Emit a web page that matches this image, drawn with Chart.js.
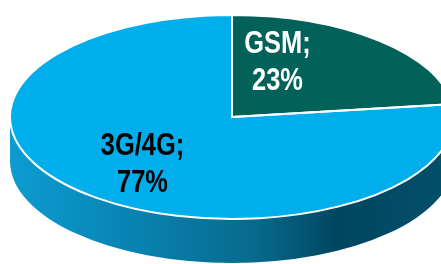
<!DOCTYPE html>
<html><head><meta charset="utf-8">
<style>html,body{margin:0;padding:0;background:#fff;overflow:hidden}canvas{display:block}</style>
<script src="https://cdn.jsdelivr.net/npm/chart.js@4/dist/chart.umd.min.js"></script>
</head><body>
<canvas id="c" width="441" height="264"></canvas>
<script>
// ---- data ----
const categories = ['GSM', '3G/4G'];
const shares = [23, 77];
// ---- style ----
const sliceColors = ['#02625A', '#00AEEC'];
const labelColors = ['#ffffff', '#000000'];
const sideStops = [
  [[0, '#0a6a62'], [1, '#013d38']],
  [[0, '#0c9cd2'], [0.27, '#0884b2'], [0.55, '#076a8c'], [0.74, '#00465f'], [1, '#03506c']]
];
// label placement as fraction of the ellipse radii along each slice's mid angle
const labelFracX = [0.31, 0.61];
const labelFracY = [0.73, 0.60];
// ---- layout of the projected pie ----
const PIE = { cx: 232, cy: 117, rx: 222, ry: 102, depth: 44 };
const FONT = "bold 31px 'Liberation Sans', Arial, sans-serif";
const NARROW = 0.82;
const LINE_H = 37;

function applyEllipse(ctx, arc) {
  const R = arc.outerRadius;
  ctx.translate(PIE.cx, PIE.cy);
  ctx.scale(PIE.rx / R, PIE.ry / R);
  ctx.translate(-arc.x, -arc.y);
}

const pie3d = {
  id: 'pie3d',
  beforeDatasetsDraw(chart) {
    const ctx = chart.ctx;
    const arcs = chart.getDatasetMeta(0).data;
    // side wall (front half only: angles 0..PI)
    arcs.forEach((arc, i) => {
      const s = arc.startAngle, e = arc.endAngle;
      [-2 * Math.PI, 0, 2 * Math.PI].forEach(k => {
        const lo = Math.max(s, k), hi = Math.min(e, k + Math.PI);
        if (hi <= lo) return;
        const g = ctx.createLinearGradient(PIE.cx - PIE.rx, 0, PIE.cx + PIE.rx, 0);
        sideStops[i].forEach(([o, c]) => g.addColorStop(o, c));
        ctx.save();
        ctx.beginPath();
        ctx.ellipse(PIE.cx, PIE.cy, PIE.rx, PIE.ry, 0, lo - k, hi - k, false);
        ctx.ellipse(PIE.cx, PIE.cy + PIE.depth, PIE.rx, PIE.ry, 0, hi - k, lo - k, true);
        ctx.closePath();
        ctx.fillStyle = g;
        ctx.fill();
        ctx.restore();
      });
    });
    ctx.save();
    applyEllipse(ctx, arcs[0]);
  },
  afterDatasetsDraw(chart) {
    const ctx = chart.ctx;
    ctx.restore();
    const arcs = chart.getDatasetMeta(0).data;
    // white slice outlines, uniform width
    arcs.forEach(arc => {
      ctx.save();
      applyEllipse(ctx, arc);
      ctx.beginPath();
      ctx.moveTo(arc.x, arc.y);
      ctx.arc(arc.x, arc.y, arc.outerRadius, arc.startAngle, arc.endAngle);
      ctx.closePath();
      ctx.restore();
      ctx.save();
      ctx.strokeStyle = '#ffffff';
      ctx.lineWidth = 2;
      ctx.lineJoin = 'round';
      ctx.stroke();
      ctx.restore();
    });
    // labels (condensed bold)
    arcs.forEach((arc, i) => {
      const mid = (arc.startAngle + arc.endAngle) / 2;
      const ax = PIE.cx + Math.cos(mid) * PIE.rx * labelFracX[i];
      const ay = PIE.cy + Math.sin(mid) * PIE.ry * labelFracY[i];
      ctx.save();
      ctx.translate(ax, ay);
      ctx.scale(NARROW, 1);
      ctx.font = FONT;
      ctx.textAlign = 'center';
      ctx.textBaseline = 'alphabetic';
      ctx.fillStyle = labelColors[i];
      ctx.fillText(categories[i] + ';', 0, -8);
      ctx.fillText(shares[i] + '%', 0, -8 + LINE_H);
      ctx.restore();
    });
  }
};

new Chart(document.getElementById('c'), {
  type: 'pie',
  data: {
    labels: categories,
    datasets: [{
      data: shares,
      backgroundColor: sliceColors,
      borderWidth: 0,
      hoverOffset: 0,
      clip: false
    }]
  },
  options: {
    responsive: false,
    animation: false,
    events: [],
    layout: { padding: 0 },
    plugins: { legend: { display: false }, tooltip: { enabled: false } }
  },
  plugins: [pie3d]
});
</script>
</body></html>
